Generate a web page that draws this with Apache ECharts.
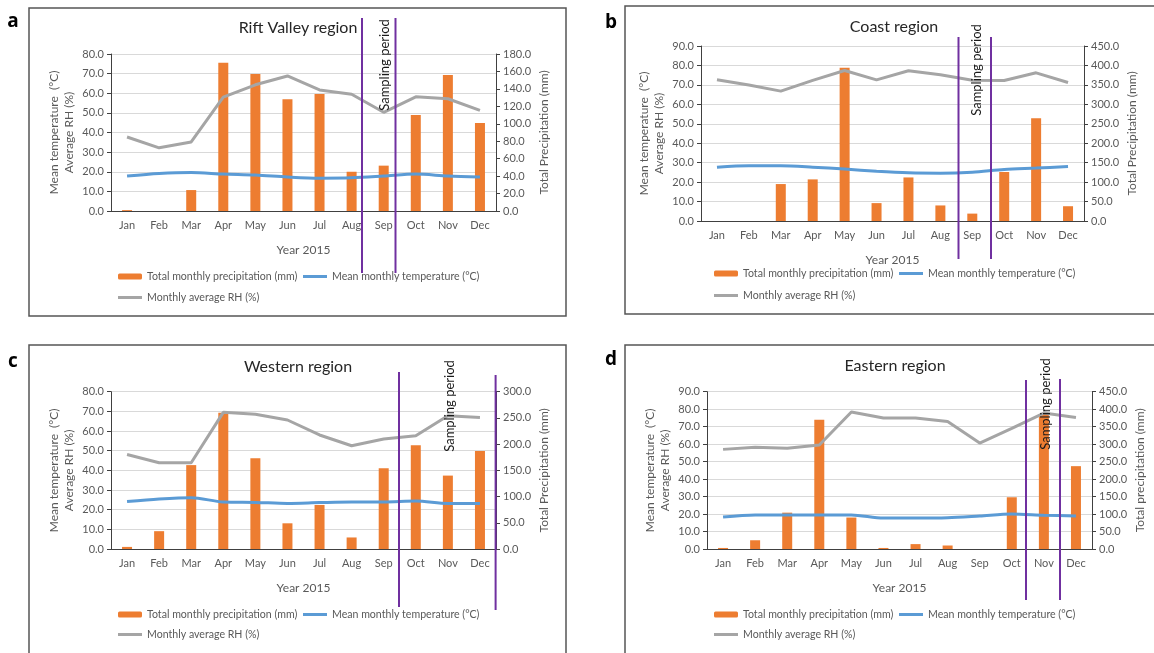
<!DOCTYPE html>
<html lang="en">
<head>
<meta charset="UTF-8">
<title>Climate 2015 by region</title>
<script src="https://cdn.jsdelivr.net/npm/echarts@6/dist/echarts.min.js"></script>
<style>
    html, body { margin: 0; padding: 0; background: #fff; overflow: hidden; }
    #chartmain { width: 1154px; height: 653px; }
</style>
</head>
<body>
<div id="chartmain"></div>
<script type="text/javascript">
    var months = ['Jan', 'Feb', 'Mar', 'Apr', 'May', 'Jun', 'Jul', 'Aug', 'Sep', 'Oct', 'Nov', 'Dec'];

    // Rift Valley
    var riftRain = [1, 0, 24, 170, 157, 128, 134, 45, 52, 110, 156, 101];
    var riftTemp = [17.8, 19.1, 19.6, 18.8, 18.3, 17.3, 16.7, 16.9, 17.8, 18.8, 17.8, 17.3];
    var riftRH = [37.7, 32.2, 35.2, 58, 64.3, 68.8, 61.7, 59.5, 50.3, 58.2, 57.2, 51.3];
    // Coast
    var coastRain = [0, 0, 95, 107, 394, 46, 112, 40, 19, 126, 264, 38];
    var coastTemp = [27.7, 28.4, 28.4, 27.7, 26.7, 25.6, 24.8, 24.6, 25.1, 26.5, 27.2, 28.0];
    var coastRH = [72.6, 69.9, 66.8, 72.3, 77.4, 72.6, 77.3, 75.2, 72.4, 72.3, 76.2, 71.2];
    // Western
    var westRain = [4, 34, 160, 260, 173, 49, 84, 22, 154, 198, 140, 187];
    var westTemp = [24.1, 25.4, 26.1, 23.9, 23.7, 23.2, 23.6, 23.9, 23.9, 24.4, 23.2, 23.2];
    var westRH = [48.1, 43.9, 43.9, 69.5, 68.5, 65.6, 58, 52.5, 55.9, 57.6, 67.8, 66.9];
    // Eastern
    var eastRain = [3, 25, 104, 370, 90, 3, 14, 10, 0, 148, 386, 237];
    var eastTemp = [18.3, 19.5, 19.5, 19.5, 19.5, 17.7, 17.7, 17.9, 18.9, 20, 19.3, 18.9];
    var eastRH = [57, 58.2, 57.6, 59.5, 78.4, 74.9, 74.9, 72.9, 60.6, 69, 77.8, 75.3];

    // axis ranges (left: temp / RH, right: precipitation)
    var leftMax = [80, 90, 80, 90];
    var rightMax = [180, 450, 300, 450];
    var rightStep = [20, 50, 50, 50];

    var rainName = 'Total monthly precipitation (mm)';
    var tempName = 'Mean monthly temperature (°C)';
    var rhName = 'Monthly average RH (%)';

    // layout of the four boxes
    var panels = [
        {letter: 'a', title: 'Rift Valley region', rain: riftRain, temp: riftTemp, rh: riftRH, rightTitle: 'Total Precipitation (mm)',
            grid: [111, 54, 385, 157], box: [29, 8, 537, 308], letterPos: [13, 22], titlePos: [298, 28],
            legend: [118, 278, 299], purple: [[362, 18, 273], [395.5, 18, 273]], sampling: [385, 65]},
        {letter: 'b', title: 'Coast region', rain: coastRain, temp: coastTemp, rh: coastRH, rightTitle: 'Total Precipitation (mm)',
            grid: [701, 46, 383, 175], box: [625, 6, 600, 308], letterPos: [611, 23], titlePos: [894, 27],
            legend: [714, 275, 297], purple: [[958.5, 37, 259], [991, 37, 259]], sampling: [977, 70]},
        {letter: 'c', title: 'Western region', rain: westRain, temp: westTemp, rh: westRH, rightTitle: 'Total Precipitation (mm)',
            grid: [111, 391.7, 385, 157.3], box: [29, 345, 537, 400], letterPos: [13, 362], titlePos: [298, 367],
            legend: [118, 616, 636], purple: [[399, 372, 607], [495.6, 375, 610]], sampling: [450, 406]},
        {letter: 'd', title: 'Eastern region', rain: eastRain, temp: eastTemp, rh: eastRH, rightTitle: 'Total precipitation (mm)',
            grid: [707, 391.7, 385, 157.3], box: [625, 345, 600, 400], letterPos: [611, 360], titlePos: [895, 366],
            legend: [714, 616, 636], purple: [[1026, 380, 600], [1060, 379, 600]], sampling: [1046, 404]}
    ];

    var font = 'Lato';
    var axisColor = '#404040';
    var labelColor = '#595959';

    var grids = [], xAxes = [], yAxes = [], series = [], legends = [], titles = [], graphics = [];

    function legendItem(name, left, top, h) {
        return {
            data: [h < 5 ? {name: name, icon: 'rect'} : name], left: left, top: top - 7, padding: 0,
            itemWidth: 24, itemHeight: h, itemGap: 4, selectedMode: false,
            textStyle: {fontSize: 10.6, color: labelColor, fontFamily: font}
        };
    }

    panels.forEach(function (p, i) {
        grids.push({left: p.grid[0], top: p.grid[1], width: p.grid[2], height: p.grid[3], containLabel: false, outerBoundsMode: 'none'});

        xAxes.push({
            gridIndex: i, type: 'category', data: months,
            axisLine: {lineStyle: {color: axisColor, width: 1}},
            axisTick: {length: 5, lineStyle: {color: axisColor}},
            axisLabel: {color: labelColor, fontSize: 11, margin: 9, interval: 0, fontFamily: font},
            splitLine: {show: false},
            name: 'Year 2015', nameLocation: 'middle', nameGap: 33,
            nameTextStyle: {color: labelColor, fontSize: 12, fontFamily: font}
        });

        yAxes.push({
            gridIndex: i, type: 'value', position: 'left', min: 0, max: leftMax[i], interval: 10,
            axisLine: {show: true, lineStyle: {color: axisColor}},
            axisTick: {show: true, length: 4, lineStyle: {color: axisColor}},
            axisLabel: {color: labelColor, fontSize: 11, margin: 7, fontFamily: font,
                formatter: function (v) { return v.toFixed(1); }},
            splitLine: {show: true, lineStyle: {color: '#D9D9D9', width: 1}},
            name: 'Mean temperature  (°C)\nAverage RH (%)', nameLocation: 'middle', nameRotate: 90, nameGap: 34,
            nameTextStyle: {color: labelColor, fontSize: 12, lineHeight: 15, fontFamily: font}
        });
        yAxes.push({
            gridIndex: i, type: 'value', position: 'right', min: 0, max: rightMax[i], interval: rightStep[i],
            axisLine: {show: true, lineStyle: {color: axisColor}},
            axisTick: {show: true, length: 4, lineStyle: {color: axisColor}},
            axisLabel: {color: labelColor, fontSize: 11, margin: 7, fontFamily: font,
                formatter: function (v) { return v.toFixed(1); }},
            splitLine: {show: false},
            name: p.rightTitle, nameLocation: 'middle', nameRotate: 90, nameGap: 42,
            nameTextStyle: {color: labelColor, fontSize: 12, fontFamily: font}
        });

        series.push({
            name: rainName, type: 'bar', xAxisIndex: i, yAxisIndex: 2 * i + 1,
            data: p.rain, barWidth: 10, itemStyle: {color: '#ED7D31'}, z: 1
        });
        series.push({
            name: tempName, type: 'line', xAxisIndex: i, yAxisIndex: 2 * i,
            data: p.temp, smooth: 0.3, symbol: 'none',
            lineStyle: {color: '#5B9BD5', width: 3}, itemStyle: {color: '#5B9BD5'}, z: 3
        });
        series.push({
            name: rhName, type: 'line', xAxisIndex: i, yAxisIndex: 2 * i,
            data: p.rh, symbol: 'none',
            lineStyle: {color: '#A5A5A5', width: 3}, itemStyle: {color: '#A5A5A5'}, z: 2
        });

        legends.push(legendItem(rainName, p.legend[0], p.legend[1], 6));
        legends.push(legendItem(tempName, p.legend[0] + 185, p.legend[1], 3));
        legends.push(legendItem(rhName, p.legend[0], p.legend[2], 3));

        titles.push({
            text: p.title, left: p.titlePos[0], top: p.titlePos[1] - 8, textAlign: 'center', padding: 0,
            textStyle: {fontSize: 16, fontWeight: 'normal', color: '#262626', fontFamily: font}
        });

        // box around each panel
        graphics.push({
            type: 'rect', silent: true, z: 0,
            shape: {x: p.box[0], y: p.box[1], width: p.box[2], height: p.box[3]},
            style: {fill: 'none', stroke: '#555', lineWidth: 1.5}
        });
        graphics.push({
            type: 'text', silent: true, x: p.letterPos[0], y: p.letterPos[1],
            style: {text: p.letter, font: 'bold 19px "Open Sans"', fill: '#000', textAlign: 'center', textVerticalAlign: 'middle'}
        });
        // sampling period markers
        p.purple.forEach(function (l) {
            graphics.push({
                type: 'line', silent: true, z: 100,
                shape: {x1: l[0], y1: l[1], x2: l[0], y2: l[2]},
                style: {stroke: '#7030A0', lineWidth: 2}
            });
        });
        graphics.push({
            type: 'text', silent: true, z: 100, x: p.sampling[0], y: p.sampling[1], rotation: Math.PI / 2,
            style: {text: 'Sampling period', font: '13px Lato', fill: '#1a1a1a', textAlign: 'center', textVerticalAlign: 'middle'}
        });
    });

    var option = {
        animation: false,
        textStyle: {fontFamily: font},
        title: titles,
        legend: legends,
        grid: grids,
        xAxis: xAxes,
        yAxis: yAxes,
        series: series,
        graphic: graphics
    };

    var myChart = echarts.init(document.getElementById('chartmain'));
    myChart.setOption(option);
</script>
</body>
</html>
